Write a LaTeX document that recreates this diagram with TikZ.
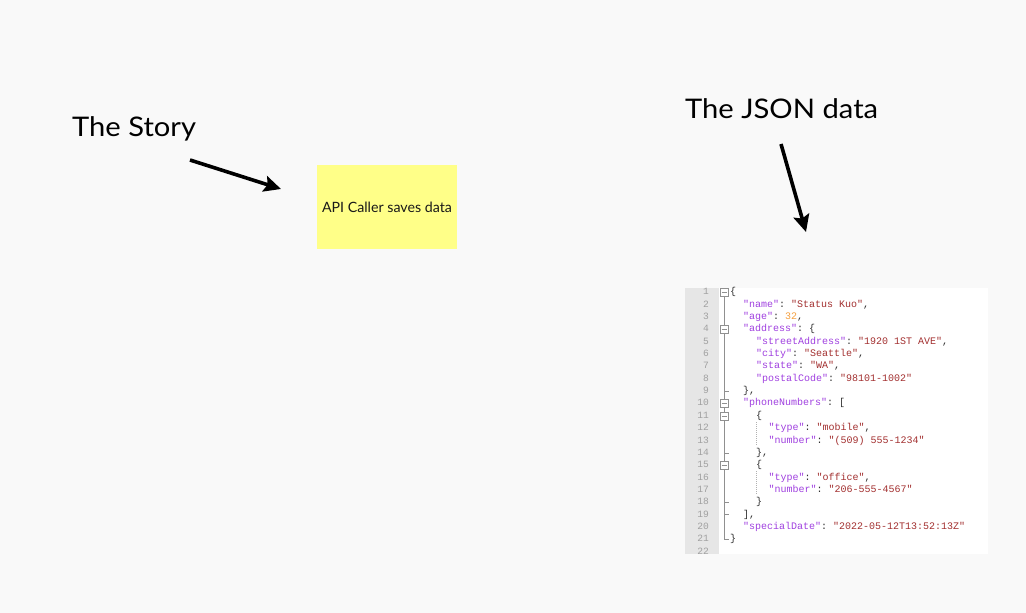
\documentclass[tikz,border=0pt]{standalone}
\usepackage{fontspec}
\setmainfont{Lato}
\setmonofont{Liberation Mono}
\usetikzlibrary{arrows.meta}
\definecolor{bg}{HTML}{F9F9F9}
\definecolor{sticky}{HTML}{FFFF88}
\definecolor{jkey}{HTML}{A040E0}
\definecolor{jstr}{HTML}{A33030}
\definecolor{jnum}{HTML}{F5A040}
\definecolor{jpunct}{HTML}{303030}
\definecolor{lnum}{HTML}{A0A0A0}
\definecolor{gutter}{HTML}{E6E6E6}
\definecolor{foldc}{HTML}{909090}
\newcommand\jk[1]{\textcolor{jkey}{"#1"}}
\newcommand\js[1]{\textcolor{jstr}{"#1"}}
\newcommand\jn[1]{\textcolor{jnum}{#1}}
\newcommand\wide[1]{\scalebox{1.08}[1]{#1}}
\begin{document}
\begin{tikzpicture}[x=1pt,y=-1pt,
  title/.style={font=\fontsize{27}{31}\selectfont, anchor=base west, inner sep=0pt, text=black},
  note/.style={fill=sticky, minimum width=140pt, minimum height=84pt, inner sep=0pt, font=\fontsize{14.2}{17}\selectfont, text=black!90},
  pointer/.style={line width=3.6pt, -{Stealth[length=17pt,width=16pt,inset=3pt]}},
  code/.style={font=\ttfamily\fontsize{10}{12}\selectfont, text=jpunct, anchor=west, inner sep=0pt, text height=7pt, text depth=2pt},
  lno/.style={font=\ttfamily\fontsize{9.6}{12}\selectfont, text=lnum, anchor=east, inner sep=0pt, text height=7pt, text depth=2pt},
  foldbox/.style={draw=foldc, fill=white, line width=0.6pt, minimum size=8pt, inner sep=0pt},
  tree/.style={draw=foldc, line width=0.6pt},
  guide/.style={draw=foldc!70, line width=0.5pt, dash pattern=on 1pt off 1pt}]
\useasboundingbox[fill=bg] (0,0) rectangle (1026,613);

% titles
\node[title] (story) at (72,136) {\wide{The Story}};
\node[title] (jsontitle) at (685,118) {\wide{The JSON data}};

% sticky note
\node[note] (note) at (387,207) {API Caller saves data};

% arrows
\coordinate (a1s) at (190,160);
\coordinate (a1e) at (281,189);
\coordinate (a2s) at (781,144);
\coordinate (a2e) at (806,232);
\draw[pointer] (a1s) -- (a1e);
\draw[pointer] (a2s) -- (a2e);

% JSON panel
\fill[white] (685,288) rectangle (988,554);
\fill[gutter] (685,288) rectangle (719,554);

% line numbers
\foreach \n/\y in {1/292.3,2/304.65,3/317.0,4/329.35,5/341.7,6/354.05,7/366.4,8/378.75,9/391.1,10/403.45,11/415.8,12/428.15,13/440.5,14/452.85,15/465.2,16/477.55,17/489.9,18/502.25,19/514.6,20/526.95,21/539.3,22/551.65}
  \node[lno] (n\n) at (709,\y) {\n};

% fold tree
\draw[tree] (724,292.3) -- (724,539.3) -- (729,539.3);
\foreach \y in {391.1,452.85,502.25,514.6}
  \draw[tree] (724,\y) -- (729,\y);
\draw[guide] (756,422) -- (756,446);
\draw[guide] (756,471) -- (756,495);
\foreach \n/\y in {1/292.3,4/329.35,10/403.45,11/415.8,15/465.2}{
  \node[foldbox] (f\n) at (724,\y) {};
  \draw[foldc, line width=0.6pt] (721.5,\y) -- (726.5,\y);
}

% code lines
\node[code] (c1) at (730,292.3) {\{};
\node[code] (c2) at (743,304.65) {\jk{name}: \js{Status Kuo},};
\node[code] (c3) at (743,317.0) {\jk{age}: \jn{32},};
\node[code] (c4) at (743,329.35) {\jk{address}: \{};
\node[code] (c5) at (756,341.7) {\jk{streetAddress}: \js{1920 1ST AVE},};
\node[code] (c6) at (756,354.05) {\jk{city}: \js{Seattle},};
\node[code] (c7) at (756,366.4) {\jk{state}: \js{WA},};
\node[code] (c8) at (756,378.75) {\jk{postalCode}: \js{98101-1002}};
\node[code] (c9) at (743,391.1) {\},};
\node[code] (c10) at (743,403.45) {\jk{phoneNumbers}: [};
\node[code] (c11) at (756,415.8) {\{};
\node[code] (c12) at (768.5,428.15) {\jk{type}: \js{mobile},};
\node[code] (c13) at (768.5,440.5) {\jk{number}: \js{(509) 555-1234}};
\node[code] (c14) at (756,452.85) {\},};
\node[code] (c15) at (756,465.2) {\{};
\node[code] (c16) at (768.5,477.55) {\jk{type}: \js{office},};
\node[code] (c17) at (768.5,489.9) {\jk{number}: \js{206-555-4567}};
\node[code] (c18) at (756,502.25) {\}};
\node[code] (c19) at (743,514.6) {],};
\node[code] (c20) at (743,526.95) {\jk{specialDate}: \js{2022-05-12T13:52:13Z}};
\node[code] (c21) at (730,539.3) {\}};
\end{tikzpicture}
\end{document}
